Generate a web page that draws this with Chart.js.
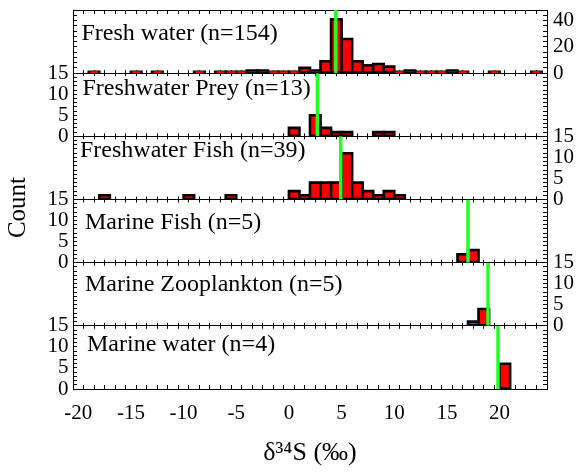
<!DOCTYPE html>
<html>
<head>
<meta charset="utf-8">
<script src="https://cdn.jsdelivr.net/npm/chart.js@4.4.0/dist/chart.umd.min.js"></script>
<style>
  html, body { margin: 0; padding: 0; background: #fff; }
</style>
</head>
<body>
<canvas id="chart" width="578" height="474"></canvas>
<script>
// --- Data (bins are 1 permil wide, value = left edge) ---
const panelNames = ['Fresh water (n=154)', 'Freshwater Prey (n=13)', 'Freshwater Fish (n=39)',
    'Marine Fish (n=5)', 'Marine Zooplankton (n=5)', 'Marine water (n=4)'];

const freshWaterBins = [-19, -15, -13, -9, -7, -6, -5, -4, -3, -2, -1, 0, 1, 2, 3, 4, 5, 6, 7, 8, 9, 10, 11, 12, 13, 14, 15, 16, 19, 23];
const freshWaterCounts = [1, 1, 1, 1, 1, 1, 1, 2, 2, 1, 1, 1, 4, 2, 9, 41, 26, 9, 6, 7, 5, 1, 2, 1, 1, 1, 2, 1, 1, 1];

const preyBins = [0, 2, 3, 4, 5, 8, 9];
const preyCounts = [2, 5, 2, 1, 1, 1, 1];

const fwFishBins = [-18, -10, -6, 0, 1, 2, 3, 4, 5, 6, 7, 8, 9, 10];
const fwFishCounts = [1, 1, 1, 2, 1, 4, 4, 4, 11, 4, 2, 1, 2, 1];

const marineFishBins = [16, 17];
const marineFishCounts = [2, 3];

const zooplanktonBins = [17, 18];
const zooplanktonCounts = [1, 4];

const marineWaterBins = [20];
const marineWaterCounts = [6];

// green lines = group means
const panelMeans = [4.45, 2.7, 4.92, 17.0, 18.9, 19.85];

// axes
const xMin = -20;
const xMax = 24;
const xTickLabels = [-20, -15, -10, -5, 0, 5, 10, 15, 20];
const panelMax = [48, 15, 15, 15, 15, 15];
const panelStep = [4, 1, 1, 1, 1, 1];
const panelLabelStep = [20, 5, 5, 5, 5, 5];

// --- Layout / style ---
const FONT = "'Liberation Serif', 'Times New Roman', serif";
const TOP = 10;
const BOTTOM_AXIS_H = 85;
const LEFT_W = 73;
const RIGHT_W = 31;
const panelH = (474 - TOP - BOTTOM_AXIS_H) / 6;
const labelDx = [8.5, 9.5, 7, 12, 12, 14];
const labelDy = [24, 16, 14, 23.5, 22, 19];

Chart.defaults.font.family = FONT;
Chart.defaults.color = '#000';

const panels = [
    [freshWaterBins, freshWaterCounts],
    [preyBins, preyCounts],
    [fwFishBins, fwFishCounts],
    [marineFishBins, marineFishCounts],
    [zooplanktonBins, zooplanktonCounts],
    [marineWaterBins, marineWaterCounts]
];

// short tick marks across every panel boundary (dash pattern along x grid lines)
const boundaryDash = [0, panelH - 3];
for (let k = 0; k < 4; k++) boundaryDash.push(6, panelH - 6);
boundaryDash.push(6, panelH + 20);

// keep label overhang from pushing the plot area around
function noPad(s) {
    s.paddingTop = 0;
    s.paddingBottom = 0;
    s.paddingLeft = 0;
    s.paddingRight = 0;
}

const datasets = [];
panels.forEach(([bins, counts], i) => {
    const pts = bins.map((b, j) => ({ x: b + 0.5, y: counts[j] }));
    const common = {
        type: 'bar',
        yAxisID: 'y' + i,
        grouped: false,
        barPercentage: 1,
        categoryPercentage: 1,
        borderWidth: 0
    };
    // black outline (inflated) + red fill (deflated)
    datasets.push(Object.assign({}, common, { data: pts, backgroundColor: '#000', inflateAmount: 1.3, order: 3 }));
    datasets.push(Object.assign({}, common, { data: pts.map(p => ({ x: p.x, y: p.y })), backgroundColor: '#ff0000', inflateAmount: -1.3, order: 2 }));
    datasets.push({
        type: 'line',
        data: [{ x: panelMeans[i], y: 0 }, { x: panelMeans[i], y: panelMax[i] }],
        yAxisID: 'y' + i,
        borderColor: '#22ff22',
        borderWidth: 3.5,
        pointRadius: 0,
        order: 1
    });
});

const scales = {
    x: {
        type: 'linear',
        position: 'bottom',
        min: xMin,
        max: xMax,
        afterFit: s => { s.height = BOTTOM_AXIS_H; noPad(s); },
        ticks: {
            stepSize: 1,
            autoSkip: false,
            maxRotation: 0,
            padding: 16,
            font: { size: 21 },
            callback: v => xTickLabels.includes(v) ? String(v) : ''
        },
        grid: { drawOnChartArea: true, color: '#000', lineWidth: 1, tickLength: -4, tickColor: '#000' },
        border: { color: '#000', width: 1, dash: boundaryDash },
        title: { display: true, text: 'δ³⁴S (‰)', font: { size: 26 }, padding: { top: 0, bottom: 5 } }
    },
    xTop: {
        type: 'linear',
        position: 'top',
        min: xMin,
        max: xMax,
        afterFit: s => { s.height = 0; noPad(s); },
        ticks: { stepSize: 1, autoSkip: false, maxRotation: 0, callback: () => '' },
        grid: { drawOnChartArea: false, tickLength: -4, tickColor: '#000', color: '#000' },
        border: { color: '#000', width: 1 }
    }
};

for (let i = 0; i < 6; i++) {
    const labelsLeft = i % 2 === 1;
    const base = {
        type: 'linear',
        stackWeight: 1,
        min: 0,
        max: panelMax[i]
    };
    const tickCb = show => v => (show && v % panelLabelStep[i] === 0) ? String(v) : '';
    scales['y' + i] = Object.assign({}, base, {
        position: 'left',
        stack: 'left',
        weight: 6 - i,
        afterFit: s => { s.width = LEFT_W; noPad(s); },
        ticks: { stepSize: panelStep[i], autoSkip: false, padding: 8.5, font: { size: 21 }, callback: tickCb(labelsLeft) },
        grid: {
            drawOnChartArea: true,
            color: c => (c.tick && c.tick.value === 0) ? '#000' : 'rgba(0,0,0,0)',
            tickColor: '#000',
            tickLength: -4,
            lineWidth: 1
        },
        border: { color: '#000', width: 1 }
    });
    scales['r' + i] = Object.assign({}, base, {
        position: 'right',
        stack: 'right',
        weight: i + 1,
        afterFit: s => { s.width = RIGHT_W; noPad(s); },
        ticks: { stepSize: panelStep[i], autoSkip: false, padding: 10, font: { size: 21 }, callback: tickCb(!labelsLeft) },
        grid: { drawOnChartArea: false, tickColor: '#000', color: '#000', tickLength: -4, lineWidth: 1 },
        border: { color: '#000', width: 1 }
    });
}

// panel captions and the y title
const panelText = {
    id: 'panelText',
    afterDraw(chart) {
        const { ctx, chartArea } = chart;
        ctx.save();
        ctx.fillStyle = '#000';
        ctx.textBaseline = 'middle';
        ctx.font = '24px ' + FONT;
        panelNames.forEach((name, i) => {
            const s = chart.scales['y' + i];
            ctx.fillText(name, chartArea.left + labelDx[i], s.top + labelDy[i]);
        });
        ctx.font = '25px ' + FONT;
        ctx.translate(18, (chartArea.top + chartArea.bottom) / 2 + 8);
        ctx.rotate(-Math.PI / 2);
        ctx.textAlign = 'center';
        ctx.fillText('Count', 0, 0);
        ctx.restore();
    }
};

new Chart(document.getElementById('chart'), {
    type: 'bar',
    data: { datasets },
    options: {
        responsive: false,
        animation: false,
        events: [],
        layout: { padding: { top: TOP, left: 0, right: 0, bottom: 0 } },
        plugins: { legend: { display: false }, tooltip: { enabled: false } },
        scales
    },
    plugins: [panelText]
});
</script>
</body>
</html>
